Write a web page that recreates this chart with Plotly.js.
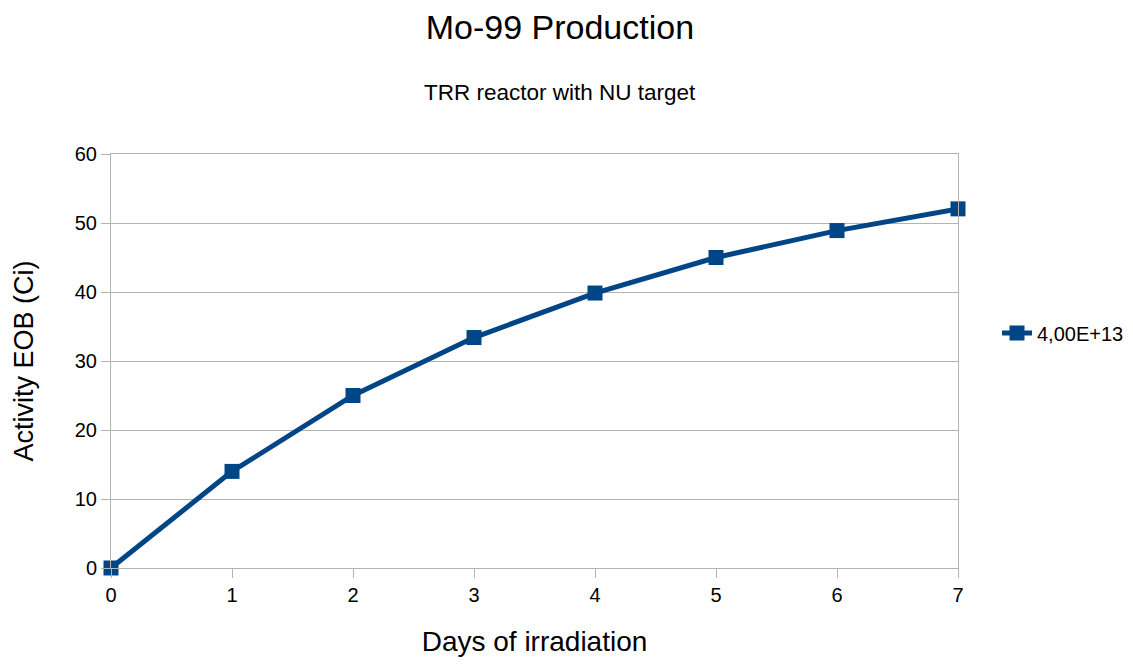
<!DOCTYPE html>
<html>
<head>
<meta charset="utf-8">
<script src="https://cdn.plot.ly/plotly-3.0.1.min.js"></script>
<style>html,body{margin:0;padding:0;background:#fff;}#chart{width:1133px;height:664px;}</style>
</head>
<body>
<div id="chart"></div>
<script>
const days = [0, 1, 2, 3, 4, 5, 6, 7];
const activity = [0, 14.0, 25.0, 33.4, 39.85, 45.0, 48.9, 52.05];
const seriesName = "4,00E+13";
const chartTitle = "Mo-99 Production";
const chartSubtitle = "TRR reactor with NU target";
const xTitle = "Days of irradiation";
const yTitle = "Activity EOB (Ci)";

const FONT = "Liberation Sans, Arial, sans-serif";
const blue = "#004586";
const grid = "#b3b3b3";

const trace = {
  x: days,
  y: activity,
  type: "scatter",
  mode: "lines+markers",
  name: seriesName,
  line: {color: blue, width: 5},
  marker: {symbol: "square", size: 15, color: blue},
  cliponaxis: false
};

const layout = {
  width: 1133,
  height: 664,
  margin: {l: 111, r: 175, t: 154, b: 96},
  paper_bgcolor: "#fff",
  plot_bgcolor: "#fff",
  font: {family: FONT, color: "#000"},
  title: {
    text: chartTitle,
    font: {family: FONT, size: 34, color: "#000"},
    x: 0.530, xanchor: "center", xref: "paper",
    y: 1 - 27 / 664, yanchor: "middle", yref: "container"
  },
  annotations: [{
    text: chartSubtitle,
    xref: "paper", yref: "paper",
    x: 0.53, y: (568 - 92) / 414,
    xanchor: "center", yanchor: "middle",
    showarrow: false,
    font: {family: FONT, size: 22.5, color: "#000"}
  }],
  xaxis: {
    range: [0, 7],
    dtick: 1,
    tick0: 0,
    showgrid: false,
    showline: true,
    mirror: true,
    linecolor: grid,
    linewidth: 1,
    zeroline: false,
    ticks: "outside",
    ticklen: 9,
    tickcolor: grid,
    tickfont: {family: FONT, size: 20, color: "#000"},
    title: {text: xTitle, font: {family: FONT, size: 28, color: "#000"}, standoff: 26}
  },
  yaxis: {
    range: [0, 60],
    dtick: 10,
    tick0: 0,
    showgrid: true,
    gridcolor: grid,
    gridwidth: 1,
    showline: true,
    mirror: true,
    linecolor: grid,
    linewidth: 1,
    zeroline: false,
    ticks: "outside",
    ticklen: 9,
    tickcolor: grid,
    tickfont: {family: FONT, size: 20, color: "#000"},
    title: {text: yTitle, font: {family: FONT, size: 27, color: "#000"}, standoff: 33}
  },
  showlegend: true,
  legend: {
    x: 997 / 1133, xref: "container", xanchor: "left",
    y: (568 - 333) / 414, yanchor: "middle",
    font: {family: FONT, size: 20, color: "#000"},
    bgcolor: "rgba(0,0,0,0)",
    itemwidth: 30
  }
};

Plotly.newPlot("chart", [trace], layout, {displayModeBar: false, staticPlot: true});
</script>
</body>
</html>
